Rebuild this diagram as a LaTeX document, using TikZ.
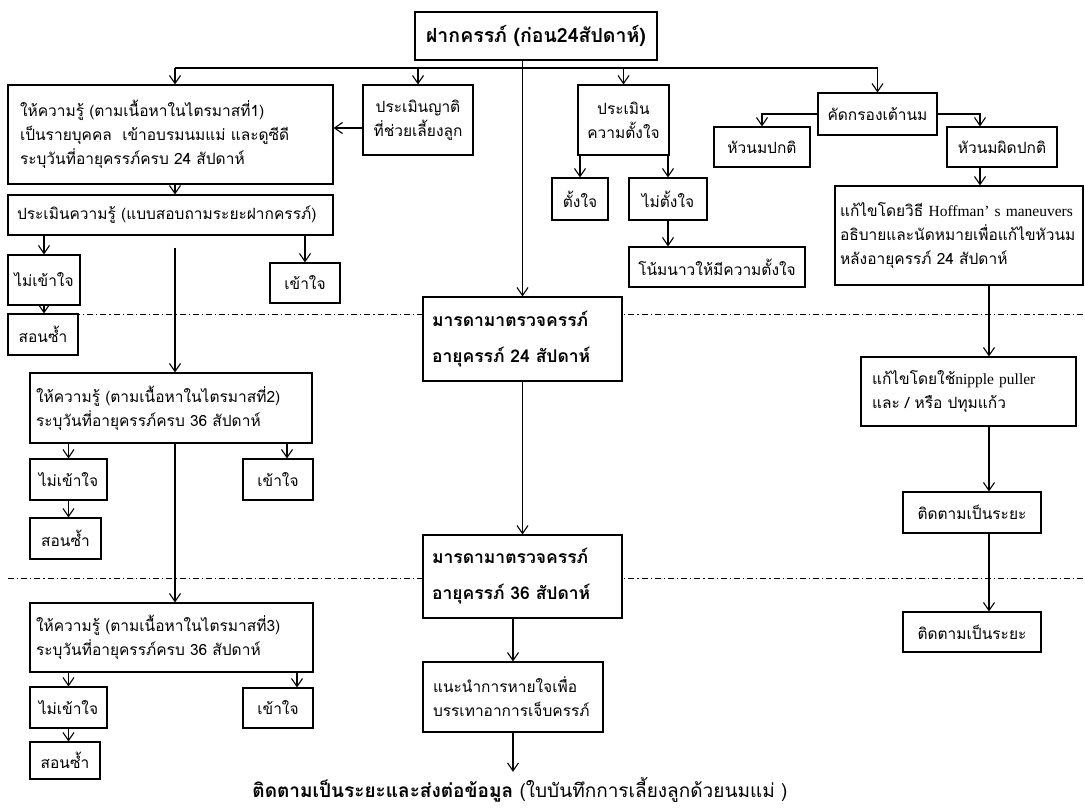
\documentclass[tikz,border=0pt]{standalone}
\usepackage{fontspec}
\setmainfont[Script=Thai]{Loma}
\newfontfamily\latfont{Liberation Serif}
\usetikzlibrary{arrows.meta}
\newcommand\lat[1]{{\latfont #1}}

\begin{document}
\begin{tikzpicture}[
  x=1pt,y=-1pt,
  box/.style={draw,line width=1.1pt,fill=white,inner xsep=3pt,inner ysep=0pt,align=center,
    font=\fontsize{15.5pt}{24pt}\selectfont},
  lbox/.style={box,align=left,inner xsep=#1},
  lbox/.default=10pt,
  bbox/.style={box,align=left,inner xsep=9pt,font=\bfseries\fontsize{17.5pt}{36pt}\selectfont},
  link/.style={-{Straight Barb[length=8pt,width=11pt]},line width=1.1pt},
  sep/.style={line width=0.7pt,dash pattern=on 6pt off 3pt on 1.2pt off 3pt},
]
\useasboundingbox (0,0) rectangle (1085,809);

% dash-dot separators between the visits
\draw[sep] (8,314) -- (1085,314);
\draw[sep] (8,578) -- (1085,578);

% top
\node[box,font=\bfseries\fontsize{19.5pt}{22pt}\selectfont,minimum width=242pt,minimum height=48pt] (top) at (536,36) {ฝากครรภ์ (ก่อน24สัปดาห์)};

% left column: knowledge per trimester
\node[lbox=12pt,text width=301pt,minimum height=99pt] (k1) at (170.5,134.5)
  {ให้ความรู้ (ตามเนื้อหาในไตรมาสที่1)\\เป็นรายบุคคล\ \ เข้าอบรมนมแม่ และดูซีดี\\ระบุวันที่อายุครรภ์ครบ 24 สัปดาห์};
\node[box,minimum width=110pt,minimum height=70pt] (rel) at (418,120) {ประเมินญาติ\\ที่ช่วยเลี้ยงลูก};
\node[lbox=9pt,text width=307pt,minimum height=40pt] (ev) at (170.5,215) {ประเมินความรู้ (แบบสอบถามระยะฝากครรภ์)};
\node[box,minimum width=72pt,minimum height=50pt] (nu1) at (44,280) {ไม่เข้าใจ};
\node[box,minimum width=70pt,minimum height=40pt] (u1) at (305,283) {เข้าใจ};
\node[box,minimum width=70pt,minimum height=41pt] (t1) at (43,334.5) {สอนซ้ำ};

\node[lbox=6pt,text width=270pt,minimum height=70pt] (k2) at (171,408)
  {ให้ความรู้ (ตามเนื้อหาในไตรมาสที่2)\\ระบุวันที่อายุครรภ์ครบ 36 สัปดาห์};
\node[box,minimum width=77pt,minimum height=41pt] (nu2) at (68.5,479.5) {ไม่เข้าใจ};
\node[box,minimum width=70pt,minimum height=41pt] (u2) at (278,479.5) {เข้าใจ};
\node[box,minimum width=71pt,minimum height=41pt] (t2) at (65.5,538.5) {สอนซ้ำ};

\node[lbox=6pt,text width=271pt,minimum height=69pt] (k3) at (171.5,637.5)
  {ให้ความรู้ (ตามเนื้อหาในไตรมาสที่3)\\ระบุวันที่อายุครรภ์ครบ 36 สัปดาห์};
\node[box,minimum width=77pt,minimum height=41pt] (nu3) at (68.5,707.5) {ไม่เข้าใจ};
\node[box,minimum width=70pt,minimum height=40pt] (u3) at (278,708) {เข้าใจ};
\node[box,minimum width=70pt,minimum height=37pt] (t3) at (65,760.5) {สอนซ้ำ};

% middle column: antenatal visits
\node[bbox,text width=181pt,minimum height=84pt] (m24) at (522.5,339) {มารดามาตรวจครรภ์\\อายุครรภ์ 24 สัปดาห์};
\node[bbox,text width=181pt,minimum height=83pt] (m36) at (522.5,576.5) {มารดามาตรวจครรภ์\\อายุครรภ์ 36 สัปดาห์};
\node[lbox=10pt,text width=160pt,minimum height=70pt] (br) at (513,697) {แนะนำการหายใจเพื่อ\\บรรเทาอาการเจ็บครรภ์};
\node[inner sep=0pt,font=\fontsize{19pt}{22pt}\selectfont,minimum height=36pt] (fu) at (520,790)
  {\textbf{ติดตามเป็นระยะและส่งต่อข้อมูล} (ใบบันทึกการเลี้ยงลูกด้วยนมแม่ )};

% intention
\node[box,minimum width=91pt,minimum height=70pt] (ic) at (623.5,120) {ประเมิน\\ความตั้งใจ};
\node[box,minimum width=56pt,minimum height=42pt] (y1) at (580,199) {ตั้งใจ};
\node[box,minimum width=78pt,minimum height=42pt] (n1) at (668,199) {ไม่ตั้งใจ};
\node[box,minimum width=176pt,minimum height=40pt] (pe) at (717,267) {โน้มนาวให้มีความตั้งใจ};

% right column: breast screening
\node[box,minimum width=119pt,minimum height=42pt] (scr) at (877.5,114) {คัดกรองเต้านม};
\node[box,minimum width=96pt,minimum height=40pt] (nn) at (762,147) {หัวนมปกติ};
\node[box,minimum width=110pt,minimum height=40pt] (ab) at (1002,147) {หัวนมผิดปกติ};
\node[lbox=5pt,text width=238pt,minimum height=99pt] (hof) at (959,235.5)
  {แก้ไขโดยวิธี \lat{Hoffman’ s maneuvers}\\อธิบายและนัดหมายเพื่อแก้ไขหัวนม\\หลังอายุครรภ์ 24 สัปดาห์};
\node[lbox=11pt,text width=193pt,minimum height=69pt] (np) at (968.5,391.5)
  {แก้ไขโดยใช้\lat{nipple puller}\\และ / หรือ ปทุมแก้ว};
\node[box,minimum width=138pt,minimum height=41pt] (f1) at (972,512.5) {ติดตามเป็นระยะ};
\node[box,minimum width=138pt,minimum height=40pt] (f2) at (972,632) {ติดตามเป็นระยะ};

% connectors
\coordinate (bus) at (0,68);
\coordinate (lc) at (175,0);
\coordinate (rc) at (989,0);
\draw[line width=1.1pt] (lc |- bus) -- (scr.north |- bus);
\draw[link] (lc |- bus) -- (lc |- k1.north);
\draw[link] (rel.north |- bus) -- (rel.north);
\draw[link] (ic.north |- bus) -- (ic.north);
\draw[link] (scr.north |- bus) -- (scr.north);
\draw[link] (top.south -| m24.north) -- (m24.north);
\draw[link] ([yshift=-8pt]rel.west) -- ([yshift=-8pt]rel.west -| k1.east);

\draw[link] (lc |- k1.south) -- (lc |- ev.north);
\draw[link] (nu1.north |- ev.south) -- (nu1.north);
\draw[link] (u1.north |- ev.south) -- (u1.north);
\draw[link] (nu1.south) -- (nu1.south |- t1.north);
\draw[link] ([yshift=-12pt]lc |- ev.south) -- (lc |- k2.north);

\draw[link] (nu2.north |- k2.south) -- (nu2.north);
\draw[link] ([xshift=9pt]u2.north |- k2.south) -- ([xshift=9pt]u2.north);
\draw[link] (nu2.south) -- (nu2.south |- t2.north);
\draw[link] (lc |- k2.south) -- (lc |- k3.north);

\draw[link] (nu3.north |- k3.south) -- (nu3.north);
\draw[link] ([xshift=19pt]u3.north |- k3.south) -- ([xshift=19pt]u3.north);
\draw[link] (nu3.south) -- (nu3.south |- t3.north);

\draw[link] (m24.south) -- (m36.north);
\draw[link] (m36.south -| br.north) -- (br.north);
\draw[link] (br.south) -- (br.south |- fu.north);

\draw[link] (ic.south -| y1.north) -- (y1.north);
\draw[link] (ic.south -| n1.north) -- (n1.north);
\draw[link] (n1.south) -- (n1.south |- pe.north);

\draw[link] (scr.west) -| (nn.north);
\draw[link] (scr.east) -| ([xshift=-22pt]ab.north);
\draw[link] ([xshift=-22pt]ab.south) -- ([xshift=-22pt]ab.south |- hof.north);
\draw[link] (rc |- hof.south) -- (rc |- np.north);
\draw[link] (rc |- np.south) -- (rc |- f1.north);
\draw[link] (rc |- f1.south) -- (rc |- f2.north);
\end{tikzpicture}
\end{document}
